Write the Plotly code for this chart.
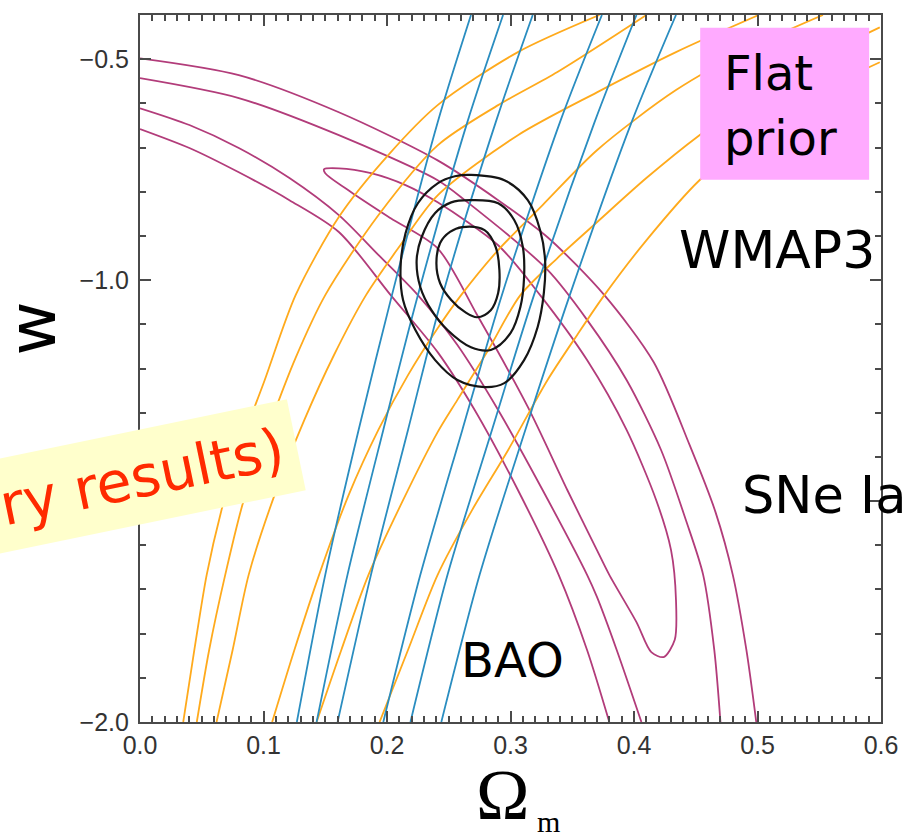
import plotly.graph_objects as go

# ---------------- data ----------------
# SNe Ia contours (Omega_m, w)
sn_3s_upper_om = [0.000, 0.080, 0.161, 0.241, 0.290, 0.330, 0.376, 0.416, 0.445, 0.466, 0.480, 0.491, 0.499]
sn_3s_upper_w = [-0.498, -0.536, -0.620, -0.729, -0.819, -0.903, -1.034, -1.186, -1.373, -1.525, -1.667, -1.837, -2.000]

sn_2s_upper_om = [0.000, 0.080, 0.161, 0.241, 0.263, 0.330, 0.362, 0.394, 0.422, 0.442, 0.456, 0.465, 0.470]
sn_2s_upper_w = [-0.543, -0.588, -0.672, -0.774, -0.819, -0.977, -1.090, -1.226, -1.385, -1.543, -1.667, -1.837, -2.000]

sn_1s_om = [0.149, 0.161, 0.187, 0.215, 0.241, 0.290, 0.324, 0.362, 0.394, 0.418, 0.430, 0.434, 0.433, 0.424,
            0.414, 0.402, 0.380, 0.370, 0.346, 0.314, 0.273, 0.241, 0.203, 0.171, 0.150, 0.149]
sn_1s_w = [-0.749, -0.747, -0.758, -0.785, -0.824, -0.921, -1.034, -1.181, -1.339, -1.498, -1.611, -1.724, -1.814, -1.853,
           -1.842, -1.774, -1.667, -1.611, -1.475, -1.287, -1.079, -0.928, -0.860, -0.801, -0.758, -0.749]

sn_2s_lower_om = [0.000, 0.040, 0.080, 0.121, 0.161, 0.193, 0.225, 0.257, 0.290, 0.326, 0.362, 0.370, 0.386, 0.406]
sn_2s_lower_w = [-0.611, -0.649, -0.701, -0.769, -0.853, -0.943, -1.034, -1.147, -1.294, -1.475, -1.667, -1.717, -1.837, -2.000]

sn_3s_lower_om = [0.000, 0.040, 0.080, 0.121, 0.161, 0.203, 0.241, 0.271, 0.306, 0.339, 0.362, 0.380]
sn_3s_lower_w = [-0.658, -0.701, -0.756, -0.819, -0.891, -1.034, -1.163, -1.294, -1.475, -1.667, -1.837, -2.000]

# BAO contour lines
bao_w = [-2.000, -1.667, -1.339, -1.034, -0.643, -0.400]
bao_1_om = [0.127, 0.150, 0.177, 0.204, 0.241, 0.268]
bao_2_om = [0.143, 0.168, 0.197, 0.225, 0.265, 0.294]
bao_3_om = [0.160, 0.187, 0.217, 0.245, 0.288, 0.318]
bao_4_om = [0.197, 0.227, 0.261, 0.293, 0.340, 0.374]
bao_5_om = [0.219, 0.249, 0.285, 0.319, 0.368, 0.402]
bao_6_om = [0.244, 0.275, 0.312, 0.348, 0.398, 0.434]

# WMAP3 contour lines
wmap_1_om = [0.035, 0.044, 0.054, 0.066, 0.080, 0.101, 0.126, 0.161, 0.201, 0.241, 0.306, 0.372]
wmap_1_w = [-2.000, -1.837, -1.667, -1.520, -1.385, -1.226, -1.034, -0.857, -0.717, -0.604, -0.484, -0.400]
wmap_2_om = [0.046, 0.056, 0.069, 0.084, 0.105, 0.126, 0.150, 0.193, 0.241, 0.290, 0.338, 0.410]
wmap_2_w = [-2.000, -1.837, -1.667, -1.498, -1.328, -1.176, -1.034, -0.853, -0.695, -0.604, -0.529, -0.400]
wmap_3_om = [0.062, 0.075, 0.088, 0.109, 0.133, 0.157, 0.183, 0.209, 0.241, 0.306, 0.370, 0.434, 0.501]
wmap_3_w = [-2.000, -1.837, -1.667, -1.486, -1.317, -1.170, -1.034, -0.928, -0.808, -0.672, -0.575, -0.484, -0.400]
wmap_4_om = [0.107, 0.125, 0.145, 0.169, 0.193, 0.217, 0.241, 0.260, 0.290, 0.326, 0.370, 0.434, 0.499, 0.553]
wmap_4_w = [-2.000, -1.837, -1.667, -1.486, -1.339, -1.215, -1.109, -1.034, -0.932, -0.830, -0.706, -0.570, -0.468, -0.400]
wmap_5_om = [0.143, 0.163, 0.185, 0.213, 0.241, 0.257, 0.282, 0.308, 0.338, 0.370, 0.410, 0.453, 0.523, 0.599]
wmap_5_w = [-2.000, -1.837, -1.667, -1.498, -1.344, -1.271, -1.158, -1.034, -0.950, -0.869, -0.769, -0.672, -0.536, -0.428]
wmap_6_om = [0.194, 0.217, 0.241, 0.269, 0.298, 0.330, 0.354, 0.376, 0.410, 0.453, 0.523, 0.599]
wmap_6_w = [-2.000, -1.837, -1.667, -1.520, -1.385, -1.226, -1.124, -1.034, -0.910, -0.774, -0.615, -0.507]

# Combined contours (closed)
comb_in_om = [0.261, 0.279, 0.288, 0.291, 0.290, 0.284, 0.273, 0.263, 0.252, 0.243, 0.240, 0.243, 0.251, 0.261]
comb_in_w = [-0.880, -0.887, -0.925, -0.977, -1.029, -1.068, -1.084, -1.072, -1.045, -1.007, -0.962, -0.916, -0.891, -0.880]
comb_mid_om = [0.267, 0.290, 0.303, 0.310, 0.311, 0.308, 0.300, 0.284, 0.268, 0.249, 0.236, 0.227, 0.224, 0.228, 0.239, 0.252, 0.267]
comb_mid_w = [-0.819, -0.826, -0.864, -0.925, -0.993, -1.061, -1.120, -1.158, -1.152, -1.113, -1.068, -1.016, -0.955, -0.903, -0.848, -0.824, -0.819]
comb_out_om = [0.268, 0.295, 0.314, 0.324, 0.328, 0.327, 0.322, 0.311, 0.295, 0.279, 0.257, 0.239, 0.223, 0.213, 0.211, 0.215, 0.225, 0.241, 0.255, 0.268]
comb_out_w = [-0.762, -0.774, -0.819, -0.887, -0.955, -1.029, -1.106, -1.181, -1.233, -1.242, -1.226, -1.181, -1.113, -1.045, -0.971, -0.894, -0.826, -0.781, -0.765, -0.762]

x_ticks = [0.0, 0.1, 0.2, 0.3, 0.4, 0.5, 0.6]
x_tick_labels = ["0.0", "0.1", "0.2", "0.3", "0.4", "0.5", "0.6"]
y_ticks = [-0.5, -1.0, -1.5, -2.0]
y_tick_labels = ["\u22120.5", "\u22121.0", "\u22121.5", "\u22122.0"]

# ---------------- figure ----------------
SN_COLOR = "#B23C7A"
BAO_COLOR = "#2A8DC0"
WMAP_COLOR = "#FFAA1C"
COMB_COLOR = "#151515"

fig = go.Figure()


def add_line(om, w, color, width, smoothing=0.8):
    fig.add_trace(go.Scatter(
        x=om, y=w, mode="lines",
        line=dict(color=color, width=width, shape="spline", smoothing=smoothing),
        hoverinfo="skip", showlegend=False))


for om, w in [(sn_3s_upper_om, sn_3s_upper_w), (sn_2s_upper_om, sn_2s_upper_w),
              (sn_1s_om, sn_1s_w), (sn_2s_lower_om, sn_2s_lower_w),
              (sn_3s_lower_om, sn_3s_lower_w)]:
    add_line(om, w, SN_COLOR, 1.8)

for om, w in [(wmap_1_om, wmap_1_w), (wmap_2_om, wmap_2_w), (wmap_3_om, wmap_3_w),
              (wmap_4_om, wmap_4_w), (wmap_5_om, wmap_5_w), (wmap_6_om, wmap_6_w)]:
    add_line(om, w, WMAP_COLOR, 1.8)

for om in [bao_1_om, bao_2_om, bao_3_om, bao_4_om, bao_5_om, bao_6_om]:
    add_line(om, bao_w, BAO_COLOR, 1.8)

for om, w in [(comb_in_om, comb_in_w), (comb_mid_om, comb_mid_w), (comb_out_om, comb_out_w)]:
    add_line(om, w, COMB_COLOR, 2.2, smoothing=1.0)

AX = "#4a4a4a"
tickfont = dict(family="Liberation Sans, Arial, sans-serif", size=25, color="#333333")

fig.update_xaxes(
    range=[0.0, 0.6], tickmode="array", tickvals=x_ticks, ticktext=x_tick_labels,
    ticks="inside", ticklen=11, tickwidth=1.6, tickcolor=AX,
    showline=True, linecolor=AX, linewidth=2.2, mirror="allticks",
    showgrid=False, zeroline=False, tickfont=tickfont, ticklabelstandoff=0,
    minor=dict(tickmode="linear", tick0=0.0, dtick=0.01, ticks="inside",
               ticklen=6, tickwidth=1.6, tickcolor=AX, showgrid=False))
fig.update_yaxes(
    range=[-2.0, -0.4], tickmode="array", tickvals=y_ticks, ticktext=y_tick_labels,
    ticks="inside", ticklen=11, tickwidth=1.6, tickcolor=AX,
    showline=True, linecolor=AX, linewidth=2.2, mirror="allticks",
    showgrid=False, zeroline=False, tickfont=tickfont, ticklabelstandoff=4,
    minor=dict(tickmode="linear", tick0=-2.0, dtick=0.1, ticks="inside",
               ticklen=6, tickwidth=1.6, tickcolor=AX, showgrid=False))

fig.update_layout(
    width=910, height=833,
    margin=dict(l=140, r=25, t=15, b=111),
    plot_bgcolor="white", paper_bgcolor="white",
    showlegend=False,
)

# pink "Flat prior" box
fig.add_shape(type="rect", xref="paper", yref="paper",
              x0=0.756, x1=0.984, y0=0.767, y1=0.982,
              fillcolor="#FFAAFF", line=dict(width=0), layer="above")

LABEL_FONT = "DejaVu Sans, Verdana, sans-serif"
SERIF = "Liberation Serif, Times New Roman, serif"
ann = [
    dict(text="Flat", x=0.785, y=0.9175, xanchor="left", yanchor="middle",
         font=dict(family=LABEL_FONT, size=48, color="black")),
    dict(text="prior", x=0.785, y=0.8256, xanchor="left", yanchor="middle",
         font=dict(family=LABEL_FONT, size=48, color="black")),
    dict(text="WMAP3", x=0.725, y=0.668, xanchor="left", yanchor="middle",
         font=dict(family=LABEL_FONT, size=52, color="black")),
    dict(text="SNe Ia", x=0.810, y=0.321, xanchor="left", yanchor="middle",
         font=dict(family=LABEL_FONT, size=51, color="black")),
    dict(text="BAO", x=0.430, y=0.088, xanchor="left", yanchor="middle",
         font=dict(family=LABEL_FONT, size=48, color="black")),
    dict(text="w", x=-0.145, y=0.556, xanchor="center", yanchor="middle", textangle=-90,
         font=dict(family=LABEL_FONT, size=66, color="black")),
    dict(text="\u03a9", x=0.490, y=-0.103, xanchor="center", yanchor="middle",
         font=dict(family=SERIF, size=72, color="black")),
    dict(text="m", x=0.551, y=-0.1414, xanchor="center", yanchor="middle",
         font=dict(family=SERIF, size=30, color="black")),
    dict(text="(preliminary results)", x=-0.1886, y=0.306, xanchor="center", yanchor="middle",
         textangle=-11.7, bgcolor="#FFFFCC", borderpad=13,
         font=dict(family=LABEL_FONT, size=57, color="#FF2A00")),
]
for a in ann:
    fig.add_annotation(xref="paper", yref="paper", showarrow=False, **a)

fig.write_html("out.html",
               config={"displayModeBar": False},
               post_script="document.body.style.margin='0px'; document.body.style.overflow='hidden';")
